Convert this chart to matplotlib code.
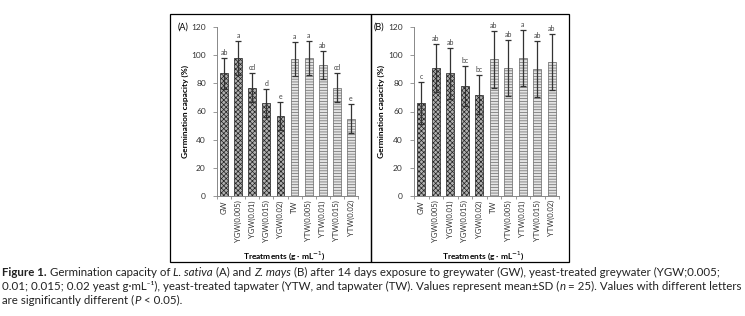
import numpy as np
import matplotlib
matplotlib.use("Agg")
import matplotlib.pyplot as plt
from matplotlib.patches import Rectangle

plt.rcParams['font.family'] = ['Lato', 'DejaVu Sans']
plt.rcParams['hatch.linewidth'] = 0.5

# Daten aus der Abbildung
treatments = ["GW", "YGW(0.005)", "YGW(0.01)", "YGW(0.015)", "YGW(0.02)",
              "TW", "YTW(0.005)", "YTW(0.01)", "YTW(0.015)", "YTW(0.02)"]

mean_a = [87, 98, 77, 66, 57, 97, 98, 93, 77, 55]
sd_a = [11, 12, 10, 10, 10, 12, 12, 10, 10, 10]
letters_a = ["ab", "a", "cd", "d", "e", "a", "a", "ab", "cd", "e"]

mean_b = [66, 91, 87, 78, 72, 97, 91, 98, 90, 95]
sd_b = [15, 17, 18, 14, 14, 20, 20, 20, 20, 20]
letters_b = ["c", "ab", "ab", "bc", "bc", "ab", "ab", "a", "ab", "ab"]

W, H = 745, 316
fig = plt.figure(figsize=(W / 100, H / 100), dpi=100)


def px(x0, y0, x1, y1):
    # Pixelkoordinaten -> Figure-Koordinaten
    return [x0 / W, 1 - y1 / H, (x1 - x0) / W, (y1 - y0) / H]


def panel(ax, mean, sd, letters, tag):
    x = np.arange(len(mean))
    for i in range(len(mean)):
        if i < 5:
            fc, hatch, ec = "#b0b0b0", "xxxxxxx", "#222222"
        else:
            fc, hatch, ec = "#e4e4e4", "------", "#666666"
        ax.bar(x[i], mean[i], width=0.55, color=fc, hatch=hatch,
               edgecolor=ec, linewidth=0.5, zorder=2)
        ax.errorbar(x[i], mean[i], yerr=sd[i], fmt="none", ecolor="#333333",
                    elinewidth=0.9, capsize=2.2, capthick=0.9, zorder=3)
        ax.text(x[i], mean[i] + sd[i] + 1.5, letters[i], ha="center",
                va="bottom", fontsize=5, color="#444444")
    ax.set_xlim(-0.45, len(mean) - 0.55)
    ax.set_ylim(0, 120)
    ax.set_yticks(range(0, 121, 20))
    ax.set_xticks(x)
    ax.set_xticklabels(treatments, rotation=90, fontsize=5.5, color="#333333")
    ax.set_xticks(np.arange(-0.5, len(mean)), minor=True)
    ax.tick_params(axis="x", which="major", length=0, pad=3)
    ax.tick_params(axis="x", which="minor", length=2.5, color="#888888")
    ax.tick_params(axis="y", labelsize=6, colors="#333333", length=3,
                   width=0.6, pad=5)
    ax.tick_params(axis="y", color="#888888")
    for s in ["top", "right"]:
        ax.spines[s].set_visible(False)
    for s in ["left", "bottom"]:
        ax.spines[s].set_color("#888888")
        ax.spines[s].set_linewidth(0.7)
    ax.set_ylabel("Germination capacity (%)", fontsize=6, fontweight="bold")
    ax.yaxis.set_label_coords(-0.2, 0.5)
    ax.set_xlabel("Treatments (g \u00b7 mL$^{-1}$)", fontsize=6, fontweight="bold")
    ax.xaxis.set_label_coords(0.48, -0.315)
    ax.text(-0.24, 1.0, tag, transform=ax.transAxes, fontsize=6.5,
            ha="center", va="center")


ax_a = fig.add_axes(px(217, 27, 358, 196))
panel(ax_a, mean_a, sd_a, letters_a, "(A)")
ax_b = fig.add_axes(px(414, 27, 559, 196))
panel(ax_b, mean_b, sd_b, letters_b, "(B)")

# Rahmen um die Teilabbildungen
for x0, x1 in [(170, 371), (371, 569)]:
    fig.add_artist(Rectangle((x0 / W, 1 - 262 / H), (x1 - x0) / W, 248 / H,
                             transform=fig.transFigure, fill=False,
                             edgecolor="black", linewidth=0.9))

# Bildunterschrift, Stueck fuer Stueck gesetzt
caption = [
    [("Figure 1.", "bold"), (" Germination capacity of ", "normal"), ("L. sativa", "italic"),
     (" (A) and ", "normal"), ("Z. mays", "italic"),
     (" (B) after 14 days exposure to greywater (GW), yeast-treated greywater (YGW;0.005;", "normal")],
    [("0.01; 0.015; 0.02 yeast g\u00b7mL\u207b\u00b9), yeast-treated tapwater (YTW, and tapwater (TW). "
      "Values represent mean\u00b1SD (", "normal"), ("n", "italic"),
     (" = 25). Values with different letters", "normal")],
    [("are significantly different (", "normal"), ("P", "italic"), (" < 0.05).", "normal")],
]
renderer = fig.canvas.get_renderer()


def draw_line(line, ypos, size):
    xpos = 2
    items = []
    for txt, st in line:
        t = fig.text(xpos / W, 1 - ypos / H, txt, fontsize=size, va="center",
                     ha="left", color="#222222",
                     fontweight="bold" if st == "bold" else "normal",
                     fontstyle="italic" if st == "italic" else "normal")
        xpos += t.get_window_extent(renderer).width
        items.append(t)
    return items, xpos


# Schriftgroesse so waehlen, dass die laengste Zeile die Breite fuellt
widest = 0
for line in caption:
    probe, end = draw_line(line, 271, 7)
    for t in probe:
        t.remove()
    widest = max(widest, end - 2)
size = 7 * 738 / widest
for k, line in enumerate(caption):
    draw_line(line, 272 + 14 * k, size)

plt.savefig("out.png", dpi=100)
